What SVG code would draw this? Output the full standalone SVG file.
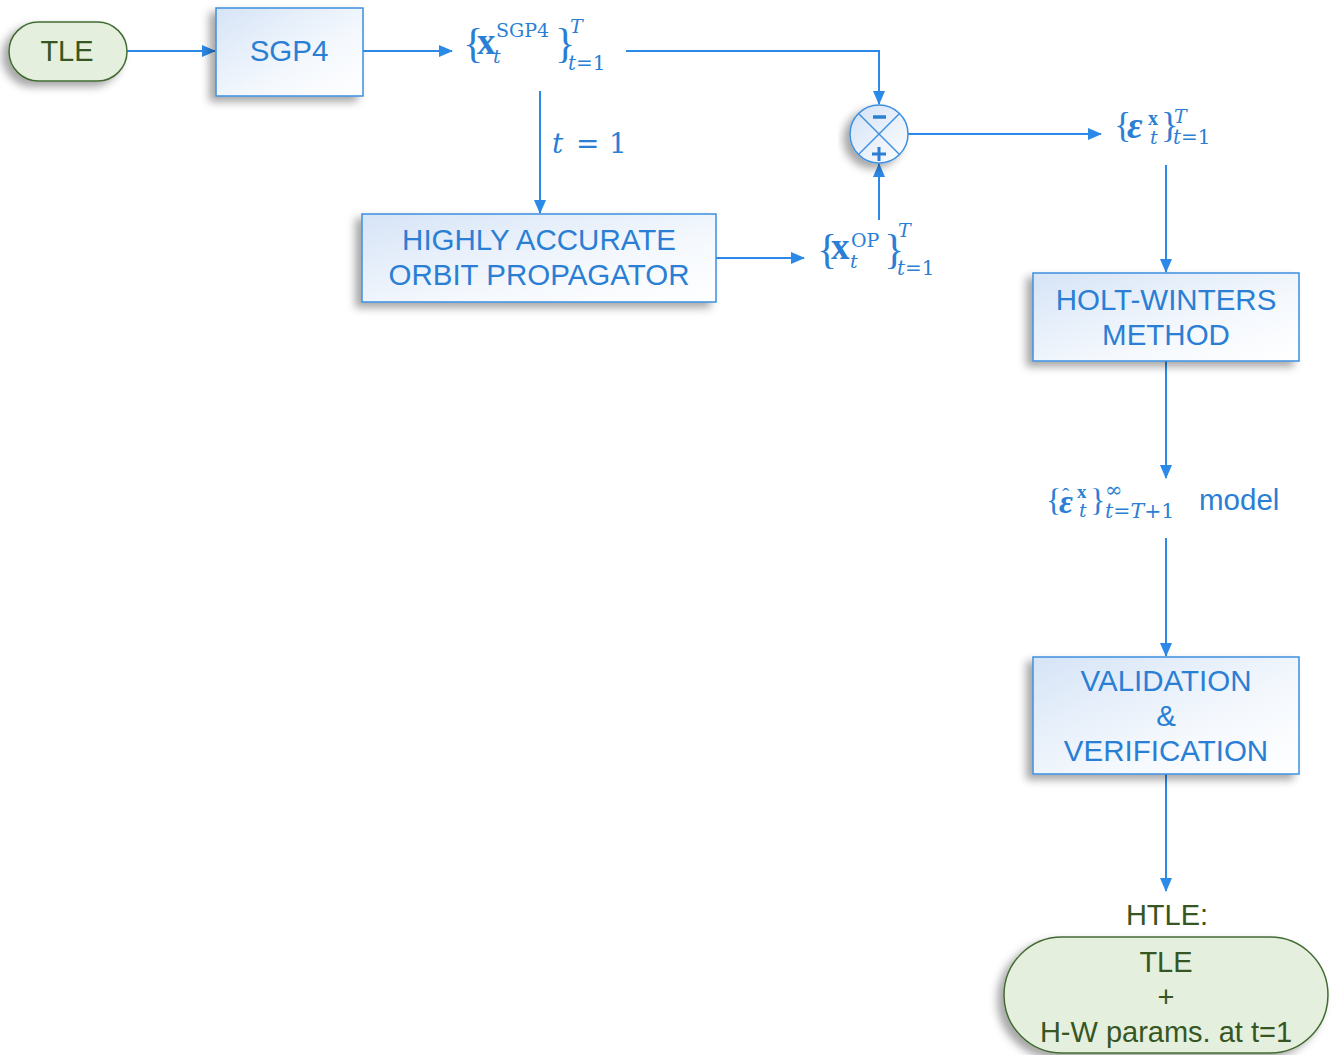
<svg xmlns="http://www.w3.org/2000/svg" width="1333" height="1055" viewBox="0 0 1333 1055">
<defs>
<linearGradient id="boxg" x1="0" y1="0" x2="1" y2="1">
<stop offset="0" stop-color="#d6e4f7"/>
<stop offset="0.6" stop-color="#f4f8fd"/>
<stop offset="1" stop-color="#ffffff"/>
</linearGradient>
<linearGradient id="circg" x1="0" y1="0" x2="1" y2="1">
<stop offset="0" stop-color="#d2e1f6"/>
<stop offset="1" stop-color="#ffffff"/>
</linearGradient>
<filter id="sh" x="-20%" y="-20%" width="140%" height="150%">
<feGaussianBlur in="SourceAlpha" stdDeviation="4"/>
<feOffset dx="-6" dy="5" result="b"/>
<feFlood flood-color="#000" flood-opacity="0.35"/>
<feComposite in2="b" operator="in"/>
<feMerge><feMergeNode/><feMergeNode in="SourceGraphic"/></feMerge>
</filter>
<marker id="ah" markerWidth="14" markerHeight="12" refX="13" refY="6" orient="auto" markerUnits="userSpaceOnUse">
<path d="M0,0 L14,6 L0,12 Z" fill="#2b8ae8"/>
</marker>
<style>
.box{fill:url(#boxg);stroke:#3d8fe0;stroke-width:1.5}
.pill{fill:#e4f0dd;stroke:#436b34;stroke-width:1.5}
.bt{font-family:"Liberation Sans",Arial,sans-serif;font-size:29.5px;fill:#2a7fd4;text-anchor:middle}
.gt{font-family:"Liberation Sans",Arial,sans-serif;font-size:29px;fill:#375623;text-anchor:middle}
.ln{stroke:#2b8ae8;stroke-width:2;fill:none}
.mt{font-family:"Liberation Serif",serif;fill:#2a7fd4}
.d{font-family:"DejaVu Serif",serif}
.i{font-style:italic}
.b{font-weight:bold}
</style>
</defs>

<g id="connectors">
<line class="ln" x1="127" y1="51" x2="215" y2="51" marker-end="url(#ah)"/>
<line class="ln" x1="363" y1="51" x2="452" y2="51" marker-end="url(#ah)"/>
<polyline class="ln" points="626,51 879,51 879,104" marker-end="url(#ah)"/>
<line class="ln" x1="540" y1="91" x2="540" y2="213" marker-end="url(#ah)"/>
<line class="ln" x1="716" y1="258" x2="804" y2="258" marker-end="url(#ah)"/>
<line class="ln" x1="879" y1="220" x2="879" y2="164" marker-end="url(#ah)"/>
<line class="ln" x1="908" y1="134" x2="1101" y2="134" marker-end="url(#ah)"/>
<line class="ln" x1="1166" y1="165" x2="1166" y2="272" marker-end="url(#ah)"/>
<line class="ln" x1="1166" y1="361" x2="1166" y2="478" marker-end="url(#ah)"/>
<line class="ln" x1="1166" y1="538" x2="1166" y2="656" marker-end="url(#ah)"/>
<line class="ln" x1="1166" y1="774" x2="1166" y2="891" marker-end="url(#ah)"/>
</g>

<g id="tle">
<rect class="pill" x="9" y="22" width="118" height="59" rx="29.5" filter="url(#sh)"/>
<text class="gt" x="67" y="61" font-size="28">TLE</text>
</g>

<g id="sgp4">
<rect class="box" x="216" y="8" width="147" height="88" filter="url(#sh)"/>
<text class="bt" x="289" y="61">SGP4</text>
</g>

<g id="x-sgp4">
<text class="mt"><tspan x="463" y="57" font-size="42">{</tspan><tspan class="b" x="477" y="54" font-size="37">x</tspan><tspan class="d" x="496" y="37" font-size="19">SGP4</tspan><tspan class="d i" x="493" y="63" font-size="19">t</tspan><tspan x="555" y="57" font-size="42">}</tspan><tspan class="d i" x="570" y="33" font-size="19">T</tspan><tspan class="d i" x="568" y="70" font-size="20">t</tspan><tspan class="d" font-size="20">=1</tspan></text>
</g>

<g id="t1label">
<text class="mt d" font-size="28"><tspan class="i" x="552" y="153">t</tspan><tspan x="576" y="153">=</tspan><tspan x="609" y="153">1</tspan></text>
</g>

<g id="haop">
<rect class="box" x="362" y="214" width="354" height="88" filter="url(#sh)"/>
<text class="bt" x="539" y="250">HIGHLY ACCURATE</text>
<text class="bt" x="539" y="285">ORBIT PROPAGATOR</text>
</g>

<g id="x-op">
<text class="mt"><tspan x="817" y="263" font-size="42">{</tspan><tspan class="b" x="831" y="259" font-size="37">x</tspan><tspan class="d" x="851" y="247" font-size="19">OP</tspan><tspan class="d i" x="850" y="268" font-size="19">t</tspan><tspan x="884" y="263" font-size="42">}</tspan><tspan class="d i" x="898" y="237" font-size="19">T</tspan><tspan class="d i" x="897" y="275" font-size="20">t</tspan><tspan class="d" font-size="20">=1</tspan></text>
</g>

<g id="sum">
<circle cx="879" cy="134" r="29" fill="url(#circg)" stroke="#3d8fe0" stroke-width="1.5" filter="url(#sh)"/>
<line x1="858.5" y1="113.5" x2="899.5" y2="154.5" stroke="#3d8fe0" stroke-width="1.5"/>
<line x1="899.5" y1="113.5" x2="858.5" y2="154.5" stroke="#3d8fe0" stroke-width="1.5"/>
<line x1="873" y1="117" x2="886" y2="117" stroke="#2a7fd4" stroke-width="3.5"/>
<line x1="872" y1="154" x2="886" y2="154" stroke="#2a7fd4" stroke-width="3"/>
<line x1="879" y1="147" x2="879" y2="161" stroke="#2a7fd4" stroke-width="3"/>
</g>

<g id="eps">
<text class="mt"><tspan x="1114" y="137" font-size="36">{</tspan><tspan class="b i" x="1127" y="138" font-size="38">ε</tspan><tspan class="b" x="1148" y="125" font-size="20">x</tspan><tspan class="d i" x="1150" y="144" font-size="19">t</tspan><tspan x="1161" y="137" font-size="36">}</tspan><tspan class="d i" x="1174" y="123" font-size="19">T</tspan><tspan class="d i" x="1173" y="144" font-size="20">t</tspan><tspan class="d" font-size="20">=1</tspan></text>
</g>

<g id="holt-winters">
<rect class="box" x="1033" y="273" width="266" height="88" filter="url(#sh)"/>
<text class="bt" x="1166" y="310">HOLT-WINTERS</text>
<text class="bt" x="1166" y="345">METHOD</text>
</g>

<g id="eps-hat">
<text class="mt"><tspan x="1046" y="511" font-size="32">{</tspan><tspan class="b i" x="1059" y="513" font-size="34">ε</tspan><tspan x="1062" y="503" font-size="22">ˆ</tspan><tspan class="b" x="1077" y="498" font-size="19">x</tspan><tspan class="d i" x="1079" y="517" font-size="19">t</tspan><tspan x="1090" y="511" font-size="32">}</tspan><tspan class="d" x="1105" y="497" font-size="21">∞</tspan><tspan class="d i" x="1105" y="518" font-size="20.5">t</tspan><tspan class="d" font-size="20.5">=</tspan><tspan class="d i" font-size="20.5">T</tspan><tspan class="d" font-size="20.5">+1</tspan></text>
<text font-family="Liberation Sans,Arial,sans-serif" font-size="29.5" fill="#2a7fd4" x="1199" y="510">model</text>
</g>

<g id="vv">
<rect class="box" x="1033" y="657" width="266" height="117" filter="url(#sh)"/>
<text class="bt" x="1166" y="691">VALIDATION</text>
<text class="bt" x="1166" y="726">&amp;</text>
<text class="bt" x="1166" y="761">VERIFICATION</text>
</g>

<g id="htle">
<text class="gt" x="1167" y="925">HTLE:</text>
<rect class="pill" x="1004" y="937" width="324" height="116" rx="58" filter="url(#sh)"/>
<text class="gt" x="1166" y="972">TLE</text>
<text class="gt" x="1166" y="1007">+</text>
<text class="gt" x="1166" y="1042">H-W params. at t=1</text>
</g>
</svg>
